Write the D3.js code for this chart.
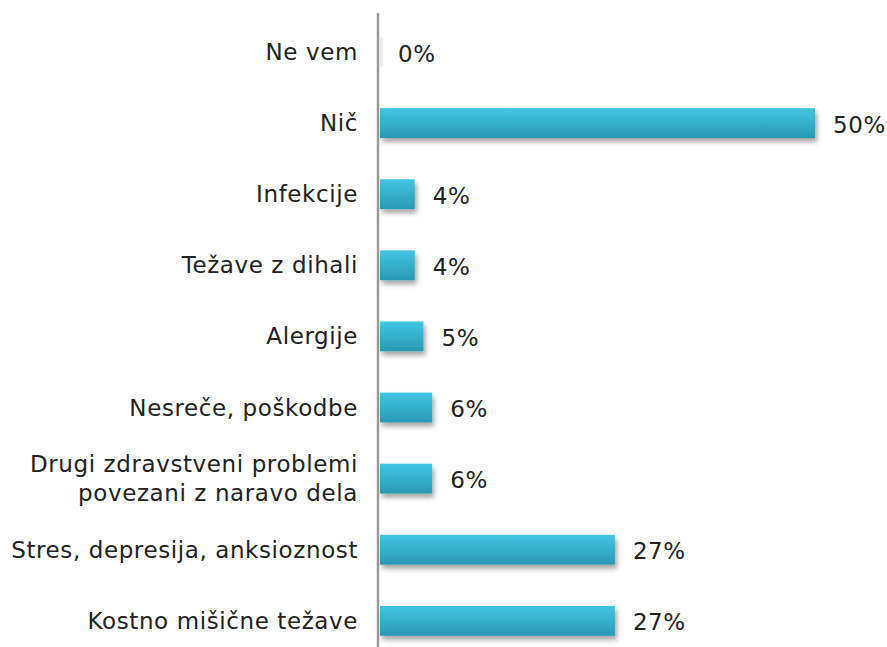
<!DOCTYPE html>
<html><head><meta charset="utf-8">
<script src="https://cdn.jsdelivr.net/npm/d3@7"></script>
<style>html,body{margin:0;padding:0;background:#fff;}svg{display:block;}</style>
</head><body>
<svg id="chart" width="887" height="647"></svg>
<script>
const categories = [
  ["Ne vem"],
  ["Nič"],
  ["Infekcije"],
  ["Težave z dihali"],
  ["Alergije"],
  ["Nesreče, poškodbe"],
  ["Drugi zdravstveni problemi", "povezani z naravo dela"],
  ["Stres, depresija, anksioznost"],
  ["Kostno mišične težave"]
];
const values = [0, 50, 4, 4, 5, 6, 6, 27, 27];
const valueLabels = ["0%", "50%", "4%", "4%", "5%", "6%", "6%", "27%", "27%"];

const svg = d3.select("#chart");
const keys = categories.map((c, i) => i);
const x = d3.scaleLinear().domain([0, 50]).range([380, 815]);
const y = d3.scaleBand().domain(keys).range([16.4, 656.4]).paddingInner(0.58).paddingOuter(0.29);

const defs = svg.append("defs");
const grad = defs.append("linearGradient").attr("id", "barGrad").attr("x1", 0).attr("y1", 0).attr("x2", 0).attr("y2", 1);
grad.append("stop").attr("offset", "0%").attr("stop-color", "#42c6e4");
grad.append("stop").attr("offset", "100%").attr("stop-color", "#2998b3");
const f = defs.append("filter").attr("id", "shadow").attr("x", "-10%").attr("y", "-30%").attr("width", "130%").attr("height", "180%");
f.append("feDropShadow").attr("dx", 2).attr("dy", 4).attr("stdDeviation", 2.5).attr("flood-color", "#000").attr("flood-opacity", 0.35);

// bars
svg.selectAll("rect.bar").data(keys).join("rect")
  .attr("class", "bar")
  .attr("x", x(0))
  .attr("y", i => y(i))
  .attr("width", i => values[i] === 0 ? 3 : x(values[i]) - x(0))
  .attr("height", y.bandwidth())
  .attr("fill", i => values[i] === 0 ? "#eeeeee" : "url(#barGrad)")
  .attr("filter", i => values[i] === 0 ? null : "url(#shadow)");

// axis line
svg.append("line").attr("x1", 378).attr("x2", 378).attr("y1", 13).attr("y2", 647)
  .attr("stroke", "#9a9a9a").attr("stroke-width", 2.5);

const font = "'DejaVu Sans', sans-serif";
// category labels
const lab = svg.selectAll("text.cat").data(keys).join("text")
  .attr("class", "cat")
  .attr("x", 358)
  .attr("text-anchor", "end")
  .attr("font-family", font)
  .attr("font-size", 23)
  .attr("letter-spacing", 0.6)
  .attr("fill", "#222");
lab.each(function(i) {
  const lines = categories[i];
  const cy = y(i) + y.bandwidth() / 2;
  const lh = 29;
  const start = cy - (lines.length - 1) * lh / 2;
  d3.select(this).selectAll("tspan").data(lines).join("tspan")
    .attr("x", 358)
    .attr("y", (d, k) => start + k * lh)
    .attr("dy", "0.35em")
    .text(d => d);
});

// value labels
svg.selectAll("text.val").data(keys).join("text")
  .attr("class", "val")
  .attr("x", i => x(values[i]) + 18)
  .attr("y", i => y(i) + y.bandwidth() / 2 + 1.5)
  .attr("dy", "0.35em")
  .attr("font-family", font)
  .attr("font-size", 23)
  .attr("letter-spacing", 0.6)
  .attr("fill", "#222")
  .text(i => valueLabels[i]);
</script>
</body></html>
